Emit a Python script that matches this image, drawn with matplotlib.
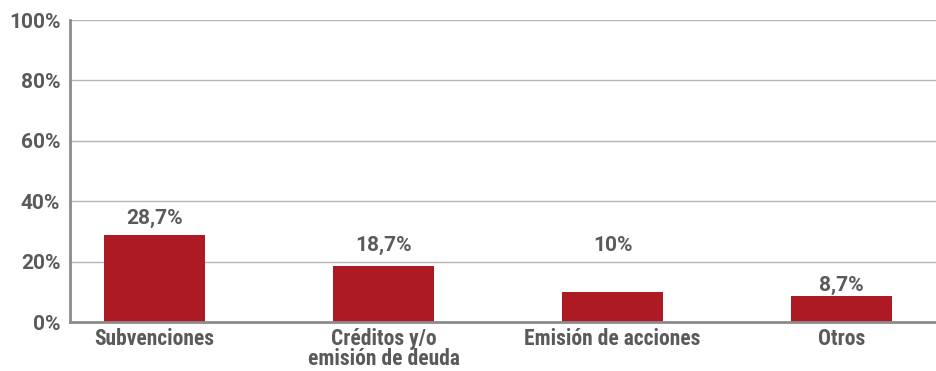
import matplotlib
matplotlib.use("Agg")
import matplotlib.pyplot as plt
from matplotlib.ticker import FuncFormatter

categorias = ["Subvenciones", "Créditos y/o\nemisión de deuda", "Emisión de acciones", "Otros"]
valores = [28.7, 18.7, 10.0, 8.7]
etiquetas = ["28,7%", "18,7%", "10%", "8,7%"]
ticks_y = [0, 20, 40, 60, 80, 100]

# altura del centro de cada etiqueta sobre su barra (puntos porcentuales)
desfase = [5.6, 6.7, 15.4, 3.5]

ROJO = "#ad1a24"
GRIS_TEXTO = "#5a5a5a"
GRIS_EJE = "#8c8c8c"
GRIS_GRID = "#b4b4b4"

FUENTE_NUM = ["Roboto", "DejaVu Sans"]
FUENTE_CAT = ["Roboto Condensed", "Roboto", "DejaVu Sans"]

plt.rcParams["font.family"] = FUENTE_CAT
plt.rcParams["font.weight"] = "bold"

fig = plt.figure(figsize=(9.37, 3.71), dpi=100)
ax = fig.add_axes([0.0747, 0.132, 0.9253, 0.814])

x = list(range(len(categorias)))
ax.bar(x, valores, width=0.441, color=ROJO, zorder=3)

for xi, v, lab, d in zip(x, valores, etiquetas, desfase):
    ax.text(xi, v + d, lab, ha="center", va="center", fontsize=15,
            color=GRIS_TEXTO, fontweight="bold", family=FUENTE_NUM)

ax.set_xlim(-0.369, 3.417)
ax.set_ylim(0, 100)
ax.set_yticks(ticks_y)
ax.yaxis.set_major_formatter(FuncFormatter(lambda v, _: f"{v:.0f}%"))
ax.set_xticks(x)
ax.set_xticklabels(categorias, linespacing=0.9)

ax.tick_params(axis="both", length=0, colors=GRIS_TEXTO)
ax.tick_params(axis="x", pad=4, labelsize=15.5)
ax.tick_params(axis="y", pad=7, labelsize=15)
for lbl in ax.get_xticklabels():
    lbl.set_fontweight("bold")
for lbl in ax.get_yticklabels():
    lbl.set_fontweight("bold")
    lbl.set_family(FUENTE_NUM)

ax.grid(axis="y", color=GRIS_GRID, linewidth=1.0, zorder=0)
for s in ["top", "right"]:
    ax.spines[s].set_visible(False)
ax.spines["left"].set_color(GRIS_EJE)
ax.spines["left"].set_linewidth(2.0)
ax.spines["bottom"].set_color(GRIS_EJE)
ax.spines["bottom"].set_linewidth(2.0)
ax.spines["bottom"].set_zorder(4)

fig.savefig("out.png", dpi=100)
